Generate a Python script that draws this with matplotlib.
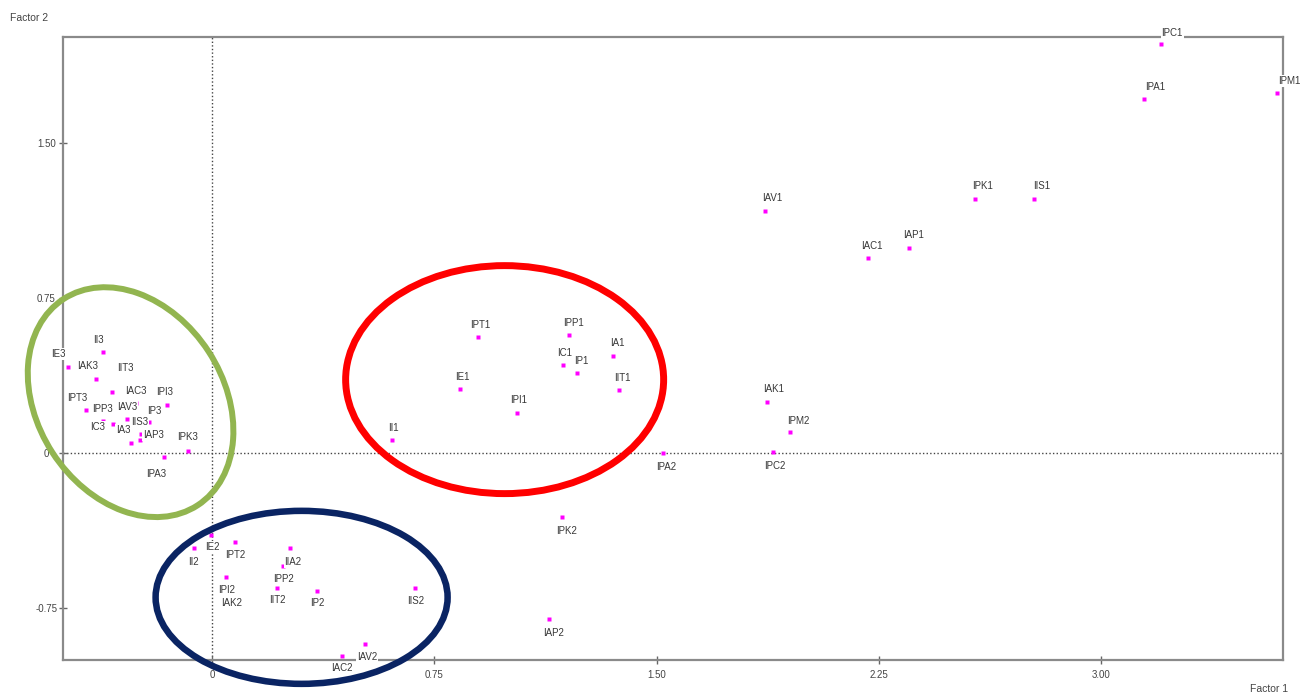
import numpy as np
import matplotlib
matplotlib.use('Agg')
import matplotlib.pyplot as plt
import matplotlib.transforms as mtransforms
from matplotlib.patches import Ellipse

# factor scores
names = ['IE3', 'II3', 'IAK3', 'IIT3', 'IPT3', 'IPP3', 'IAV3', 'IAC3', 'IPI3', 'IP3',
         'IIS3', 'IC3', 'IA3', 'IAP3', 'IPK3', 'IPA3',
         'IE2', 'II2', 'IPT2', 'IIA2', 'IPP2', 'IPI2', 'IAK2', 'IIT2', 'IP2', 'IIS2',
         'IAC2', 'IAV2',
         'IPK2', 'IAP2', 'IPA2', 'IPC2', 'IAK1', 'IPM2', 'IAV1', 'IAC1', 'IAP1', 'IPK1',
         'IIS1', 'IPC1', 'IPA1', 'IPM1',
         'IPT1', 'IPP1', 'IA1', 'IC1', 'IP1', 'IE1', 'IIT1', 'IPI1', 'II1']
factor1 = [-0.486, -0.368, -0.391, -0.337, -0.425, -0.368, -0.287, -0.256, -0.152, -0.213,
           -0.240, -0.334, -0.273, -0.243, -0.081, -0.162,
           -0.003, -0.061, 0.078, 0.263, 0.240, 0.047, 0.067, 0.219, 0.354, 0.685,
           0.439, 0.516,
           1.181, 1.137, 1.522, 1.893, 1.872, 1.950, 1.866, 2.213, 2.352, 2.574,
           2.773, 3.202, 3.144, 3.593,
           0.897, 1.204, 1.353, 1.184, 1.231, 0.837, 1.373, 1.029, 0.607]
factor2 = [0.416, 0.489, 0.358, 0.295, 0.208, 0.155, 0.165, 0.242, 0.232, 0.150,
           0.092, 0.140, 0.048, 0.063, 0.010, -0.019,
           -0.397, -0.460, -0.431, -0.460, -0.547, -0.600, -0.663, -0.653, -0.668, -0.653,
           -0.982, -0.924,
           -0.310, -0.803, 0.000, 0.005, 0.247, 0.102, 1.171, 0.944, 0.992, 1.229,
           1.229, 1.979, 1.713, 1.742,
           0.561, 0.571, 0.469, 0.426, 0.387, 0.310, 0.305, 0.194, 0.063]

xticks = [0, 0.75, 1.50, 2.25, 3.00]
xticklabels = ['0', '0.75', '1.50', '2.25', '3.00']
yticks = [-0.75, 0, 0.75, 1.50]
yticklabels = ['-0.75', '0', '0.75', '1.50']

# label placement (pixels from the point)
label_off = [(-10, 13), (-5, 12), (-9, 13), (13, 24), (-9, 12), (-1, 12), (0, 12), (0, 12),
             (-2, 13), (5, 11), (-1, 12), (-15, -3), (-8, 13), (13, 5), (-1, 14), (-8, -17),
             (1, -12), (-1, -14), (0, -13), (3, -14), (0, -13), (1, -13), (0, -13), (0, -12),
             (0, -12), (1, -13), (0, -12), (2, -13),
             (4, -14), (4, -14), (3, -14), (2, -14), (7, 13), (8, 11), (7, 13), (4, 12),
             (4, 13), (8, 13), (8, 13), (11, 11), (11, 12), (12, 12),
             (2, 12), (5, 12), (4, 13), (2, 12), (4, 12), (2, 12), (3, 12), (2, 13), (1, 12)]

plt.rcParams['font.family'] = ['Liberation Sans', 'DejaVu Sans']

fig = plt.figure(figsize=(13, 6.95), dpi=100)
ax = fig.add_axes([63/1300, 1-660/695, (1283-63)/1300, (660-37)/695])
ax.set_xlim(-0.503, 3.613)
ax.set_ylim(-1.0, 2.013)

ax.axhline(0, color='#444444', lw=1, ls=(0, (1, 1.6)), zorder=1)
ax.axvline(0, color='#444444', lw=1, ls=(0, (1, 1.6)), zorder=1)

ax.plot(factor1, factor2, 's', color='#ff00ff', ms=3.2, mec='none', zorder=2)

for n, x, y, off in zip(names, factor1, factor2, label_off):
    ax.annotate(n, (x, y), xytext=off, textcoords='offset pixels',
                ha='center', va='center', fontsize=7, color='#383838',
                bbox=dict(boxstyle='square,pad=0.1', fc='white', ec='none'),
                zorder=4, annotation_clip=False)

for s in ax.spines.values():
    s.set_color('#8a8a8a')
    s.set_linewidth(1.6)

ax.set_xticks(xticks)
ax.set_xticklabels(xticklabels)
ax.set_yticks(yticks)
ax.set_yticklabels(yticklabels)
ax.tick_params(direction='inout', length=6, width=1, color='#666666',
               labelsize=7, labelcolor='#444444')
ax.tick_params(axis='x', pad=4)
ax.tick_params(axis='y', pad=9)
for lab in ax.get_yticklabels():
    lab.set_ha('center')

# group ellipses (sizes in pixels, centres in data units)
groups = [((-0.275, 0.247), 186, 246, 33, '#92b550', 4.3),
          ((0.987, 0.356), 318, 228, 0, '#ff0000', 5.0),
          ((0.302, -0.697), 292, 173, 0, '#0a2463', 4.7)]
for (cx, cy), w, h, ang, col, lw in groups:
    tr = fig.dpi_scale_trans + mtransforms.ScaledTranslation(cx, cy, ax.transData)
    e = Ellipse((0, 0), w/100, h/100, angle=ang, transform=tr,
                fill=False, ec=col, lw=lw, zorder=5, clip_on=False)
    fig.add_artist(e)

fig.text(10/1300, 1-18/695, 'Factor 2', fontsize=7.5, color='#444444', ha='left', va='center')
fig.text(1250/1300, 1-684/695, 'Factor 1', fontsize=7.5, color='#444444', ha='left', va='top')

fig.savefig('out.png', dpi=100)
